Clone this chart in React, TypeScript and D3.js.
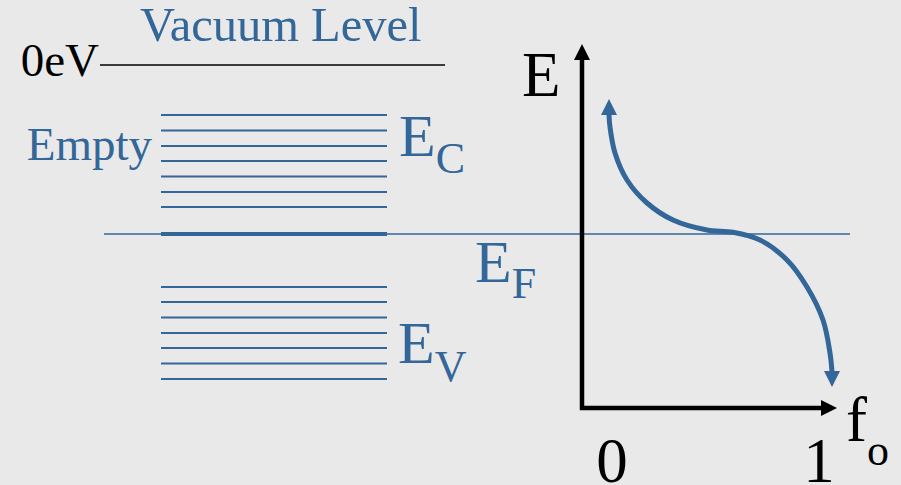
import React from "react";
import * as d3 from "d3";

// Energy in arbitrary units, Fermi level = 0
const vacuumLevel = 1.69;
const fermiLevel = 0;
const conductionLevels = [1.19, 1.035, 0.88, 0.73, 0.575, 0.42, 0.27];
const valenceLevels = [-0.53, -0.68, -0.835, -0.99, -1.14, -1.295, -1.45];

// Fermi-Dirac occupancy curve (schematic)
const curveF = [0.108, 0.112, 0.132, 0.18, 0.26, 0.364, 0.5, 0.604, 0.712, 0.82, 0.9, 0.964, 0.992, 1.0];
const curveE = [1.19, 1.07, 0.81, 0.54, 0.31, 0.14, 0.04, 0.017, -0.06, -0.26, -0.53, -0.86, -1.19, -1.38];
const curveTipTop = { f: 0.108, E: 1.35 };
const curveTipBottom = { f: 1.0, E: -1.53 };

const axisOriginE = -1.74;
const axisTopE = 1.9;
const axisRightF = 1.02;
const xTickLabels = ["0", "1"];

const BLUE = "#336699";
const BG = "#e9e9e9";
const SERIF = "\"Liberation Serif\", \"Times New Roman\", Times, \"DejaVu Serif\", serif";

export default function App() {
  const W = 901, H = 485;
  const y = d3.scaleLinear().domain([0, 1]).range([234, 134]);
  const x = d3.scaleLinear().domain([0, 1]).range([582, 832]);
  const bandX0 = 161, bandX1 = 387;

  const pts: [number, number][] = curveF.map((f, i) => [x(f), y(curveE[i])]);
  const line = d3.line().curve(d3.curveCatmullRom.alpha(0.5));
  const curvePath = line(pts) || "";

  const ox = x(0), oy = y(axisOriginE);
  const topY = y(axisTopE);
  const rightX = x(axisRightF);
  const ah = 16, aw = 8;

  const tTop = [x(curveTipTop.f), y(curveTipTop.E)];
  const tBot = [x(curveTipBottom.f), y(curveTipBottom.E)];
  const ts = (size: number) => ({ fontFamily: SERIF, fontSize: size });

  return (
    <svg width={W} height={H} style={{ position: "absolute", left: 0, top: 0, background: BG }}>
      <rect x={0} y={0} width={W} height={H} fill={BG} />
      {/* vacuum level */}
      <line x1={100} x2={445} y1={y(vacuumLevel)} y2={y(vacuumLevel)} stroke="#000" strokeWidth={1.5} />
      <text x={140} y={41} style={ts(48.5)} fill={BLUE}>Vacuum Level</text>
      <text x={99} y={76} style={ts(47)} fill="#000" textAnchor="end">0eV</text>

      {/* conduction band levels */}
      {conductionLevels.map((e, i) => (
        <line key={"c" + i} x1={bandX0} x2={bandX1} y1={y(e)} y2={y(e)} stroke={BLUE} strokeWidth={2} />
      ))}
      {/* valence band levels */}
      {valenceLevels.map((e, i) => (
        <line key={"v" + i} x1={bandX0} x2={bandX1} y1={y(e)} y2={y(e)} stroke={BLUE} strokeWidth={2} />
      ))}
      {/* Fermi level */}
      <line x1={104} x2={850} y1={y(fermiLevel)} y2={y(fermiLevel)} stroke={BLUE} strokeWidth={1.5} />
      <line x1={bandX0} x2={bandX1} y1={y(fermiLevel)} y2={y(fermiLevel)} stroke={BLUE} strokeWidth={4} />

      <text x={152} y={160} style={ts(47)} fill={BLUE} textAnchor="end">Empty</text>

      <text x={399} y={156} style={ts(60)} fill={BLUE}>E<tspan style={ts(44)} dy={17}>C</tspan></text>
      <text x={475} y={282} style={ts(60)} fill={BLUE}>E<tspan style={ts(44)} dy={16}>F</tspan></text>
      <text x={398} y={363} style={ts(60)} fill={BLUE}>E<tspan style={ts(44)} dy={18}>V</tspan></text>

      {/* axes */}
      <path d={`M${ox},${topY + ah} L${ox},${oy} L${rightX - ah},${oy}`} fill="none" stroke="#000" strokeWidth={4.5} strokeLinejoin="miter" strokeLinecap="square" />
      <polygon points={`${ox},${topY} ${ox - aw},${topY + ah} ${ox + aw},${topY + ah}`} fill="#000" />
      <polygon points={`${rightX},${oy} ${rightX - ah},${oy - aw} ${rightX - ah},${oy + aw}`} fill="#000" />

      <text x={522} y={96} style={ts(63)} fill="#000">E</text>
      <text x={846} y={441} style={ts(63)} fill="#000">f<tspan style={ts(44)} dy={24}>o</tspan></text>
      {xTickLabels.map((t, i) => (
        <text key={t} x={i === 0 ? 612 : 819} y={482} style={ts(63)} fill="#000" textAnchor="middle">{t}</text>
      ))}

      {/* occupancy curve */}
      <path d={curvePath} fill="none" stroke={BLUE} strokeWidth={5} />
      <polygon points={`${tTop[0]},${tTop[1]} ${tTop[0] - aw},${tTop[1] + ah} ${tTop[0] + aw},${tTop[1] + ah}`} fill={BLUE} />
      <polygon points={`${tBot[0]},${tBot[1]} ${tBot[0] - aw},${tBot[1] - ah} ${tBot[0] + aw},${tBot[1] - ah}`} fill={BLUE} />
    </svg>
  );
}
